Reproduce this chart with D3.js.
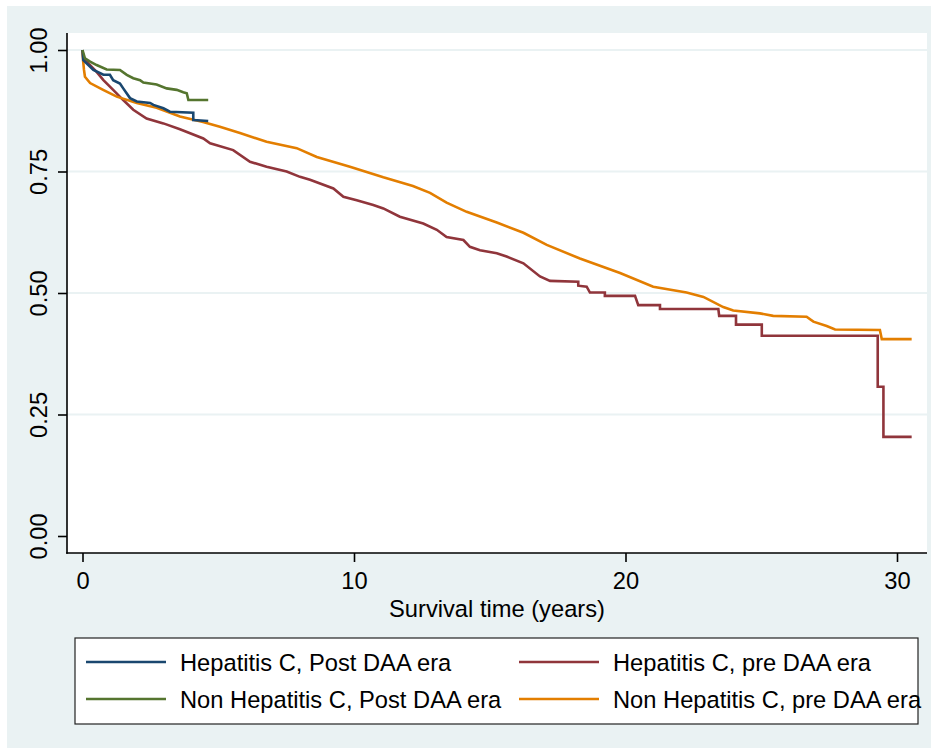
<!DOCTYPE html>
<meta charset="utf-8">
<style>
body { margin: 0; background: #fff; }
text { font-family: "Liberation Sans", Arial, sans-serif; fill: #000; }
</style>
<body>
<script src="https://cdn.jsdelivr.net/npm/d3@7"></script>
<script>

// Kaplan-Meier estimates (time in years, survival)
var hcvPostT = [0, 0.03, 0.40, 0.77, 1.01, 1.13, 1.38, 1.50, 1.75, 2.00, 2.49, 2.61, 2.98, 3.22, 4.08, 4.08, 4.63];
var hcvPostS = [1.0, 0.979, 0.959, 0.949, 0.949, 0.938, 0.931, 0.921, 0.901, 0.894, 0.891, 0.887, 0.880, 0.873, 0.871, 0.856, 0.854];

var nonPostT = [0, 0.09, 0.28, 0.52, 0.89, 1.38, 1.63, 1.87, 2.12, 2.24, 2.73, 3.10, 3.47, 3.71, 3.84, 3.90, 4.63];
var nonPostS = [1.0, 0.983, 0.976, 0.969, 0.960, 0.959, 0.949, 0.942, 0.938, 0.933, 0.929, 0.921, 0.918, 0.913, 0.911, 0.897, 0.897];

var hcvPreT = [0, 0.03, 0.28, 0.52, 0.77, 1.13, 1.50, 1.87, 2.36, 2.98, 3.59, 4.45, 4.70, 5.55, 6.17, 6.78, 7.52, 8.01, 8.38, 9.24,
    9.61, 10.10, 10.71, 11.08, 11.69, 12.55, 13.05, 13.41, 14.03, 14.27, 14.64, 15.26, 15.62, 16.24, 16.85, 17.22, 18.26, 18.26,
    18.57, 18.69, 19.24, 19.24, 20.35, 20.47, 21.27, 21.27, 23.42, 23.45, 24.07, 24.07, 25.02, 25.02, 29.29, 29.29, 29.50, 29.50, 30.54];
var hcvPreS = [1.0, 0.983, 0.969, 0.955, 0.938, 0.918, 0.897, 0.877, 0.859, 0.849, 0.837, 0.818, 0.808, 0.794, 0.770, 0.760, 0.750, 0.739, 0.733, 0.715,
    0.698, 0.691, 0.681, 0.674, 0.657, 0.643, 0.630, 0.615, 0.609, 0.595, 0.588, 0.582, 0.575, 0.561, 0.534, 0.525, 0.523, 0.515,
    0.513, 0.501, 0.501, 0.494, 0.494, 0.475, 0.475, 0.467, 0.467, 0.453, 0.453, 0.435, 0.435, 0.412, 0.412, 0.307, 0.307, 0.204, 0.204];

var nonPreT = [0, 0.02, 0.055, 0.09, 0.28, 0.76, 1.26, 2.00, 2.73, 3.59, 4.44, 5.06, 5.80, 6.78, 7.89, 8.63, 9.85, 11.08, 12.17, 12.80,
    13.41, 14.15, 15.26, 16.24, 17.10, 18.32, 19.80, 21.02, 22.25, 22.87, 23.60, 23.97, 24.95, 25.44, 26.67, 26.92, 27.41, 27.72, 29.37, 29.44, 30.54];
var nonPreS = [1.0, 0.979, 0.959, 0.945, 0.932, 0.918, 0.904, 0.891, 0.881, 0.863, 0.852, 0.842, 0.829, 0.811, 0.798, 0.780, 0.760, 0.738, 0.720, 0.706,
    0.686, 0.667, 0.645, 0.624, 0.599, 0.571, 0.541, 0.513, 0.501, 0.492, 0.471, 0.464, 0.458, 0.453, 0.451, 0.441, 0.432, 0.425, 0.424, 0.405, 0.405];

var seriesNames = ["Hepatitis C, Post DAA era", "Hepatitis C, pre DAA era",
                   "Non Hepatitis C, Post DAA era", "Non Hepatitis C, pre DAA era"];
var seriesColors = ["#1a476f", "#90353b", "#55752f", "#e37e00"];

var xTicks = [0, 10, 20, 30];
var yTicks = [0, 0.25, 0.5, 0.75, 1];
var xTitle = "Survival time (years)";

var W = 938, H = 754;
var plot = {left: 67, right: 927, top: 33, bottom: 553};

var svg = d3.select("body").append("svg")
    .attr("width", W)
    .attr("height", H);

// outer (graph region) background
svg.append("rect")
    .attr("x", 7).attr("y", 6)
    .attr("width", 924).attr("height", 742)
    .attr("fill", "#eaf2f3");

// plot region
svg.append("rect")
    .attr("x", plot.left).attr("y", plot.top)
    .attr("width", plot.right - plot.left).attr("height", plot.bottom - plot.top)
    .attr("fill", "#fff");

var x = d3.scaleLinear().domain([0, 30]).range([82.5, 897]);
var y = d3.scaleLinear().domain([0, 1]).range([536, 50]);

// gridlines (not at 0)
svg.append("g").selectAll("line")
    .data(yTicks.filter(function (d) { return d > 0; }))
    .enter().append("line")
    .attr("x1", plot.left).attr("x2", plot.right)
    .attr("y1", function (d) { return y(d); })
    .attr("y2", function (d) { return y(d); })
    .attr("stroke", "#eaf2f3")
    .attr("stroke-width", 2);

// curves
var tables = [
    {t: hcvPostT, s: hcvPostS},
    {t: hcvPreT, s: hcvPreS},
    {t: nonPostT, s: nonPostS},
    {t: nonPreT, s: nonPreS}
];
var line = d3.line()
    .x(function (d) { return x(d[0]); })
    .y(function (d) { return y(d[1]); });

// draw order: pre-DAA first, then post-DAA on top
[1, 3, 0, 2].forEach(function (i) {
    var pts = tables[i].t.map(function (t, k) { return [t, tables[i].s[k]]; });
    svg.append("path")
        .attr("d", line(pts))
        .attr("fill", "none")
        .attr("stroke", seriesColors[i])
        .attr("stroke-width", 2.6)
        .attr("stroke-linejoin", "miter");
});

// Y axis
var yAxis = svg.append("g")
    .attr("transform", "translate(" + plot.left + ",0)")
    .call(d3.axisLeft(y).tickValues(yTicks).tickSize(9).tickFormat(d3.format(".2f")));
yAxis.select(".domain").remove();
yAxis.selectAll(".tick line").attr("stroke", "#000").attr("stroke-width", 1.6);
yAxis.selectAll(".tick text")
    .attr("transform", "rotate(-90)")
    .attr("x", 0).attr("y", -20).attr("dy", null)
    .attr("text-anchor", "middle")
    .style("font-size", "23.7px")
    .style("font-family", "Liberation Sans, Arial, sans-serif");
svg.append("line")
    .attr("x1", plot.left).attr("x2", plot.left)
    .attr("y1", plot.top).attr("y2", plot.bottom + 0.8)
    .attr("stroke", "#000").attr("stroke-width", 1.6);

// X axis
var xAxis = svg.append("g")
    .attr("transform", "translate(0," + plot.bottom + ")")
    .call(d3.axisBottom(x).tickValues(xTicks).tickSize(9).tickFormat(d3.format("d")));
xAxis.select(".domain").remove();
xAxis.selectAll(".tick line").attr("stroke", "#000").attr("stroke-width", 1.6);
xAxis.selectAll(".tick text")
    .attr("y", 36).attr("dy", null)
    .style("font-size", "23.7px")
    .style("font-family", "Liberation Sans, Arial, sans-serif");
svg.append("line")
    .attr("x1", plot.left - 0.8).attr("x2", plot.right)
    .attr("y1", plot.bottom).attr("y2", plot.bottom)
    .attr("stroke", "#000").attr("stroke-width", 1.6);

svg.append("text")
    .attr("x", (plot.left + plot.right) / 2)
    .attr("y", 617)
    .attr("text-anchor", "middle")
    .style("font-size", "23.7px")
    .text(xTitle);

// legend
svg.append("rect")
    .attr("x", 75).attr("y", 638)
    .attr("width", 843).attr("height", 86)
    .attr("fill", "#fff")
    .attr("stroke", "#222")
    .attr("stroke-width", 1.2);

var legendCols = [86, 519];
var legendRows = [662, 699];
var leg = svg.append("g").selectAll("g")
    .data(seriesNames)
    .enter().append("g")
    .attr("transform", function (d, i) {
        return "translate(" + legendCols[i % 2] + "," + legendRows[Math.floor(i / 2)] + ")";
    });
leg.append("line")
    .attr("x1", 0).attr("x2", 80)
    .attr("stroke", function (d, i) { return seriesColors[i]; })
    .attr("stroke-width", 2.6);
leg.append("text")
    .attr("x", 94)
    .attr("y", 8.5)
    .style("font-size", "23.7px")
    .text(function (d) { return d; });

</script>
</body>
